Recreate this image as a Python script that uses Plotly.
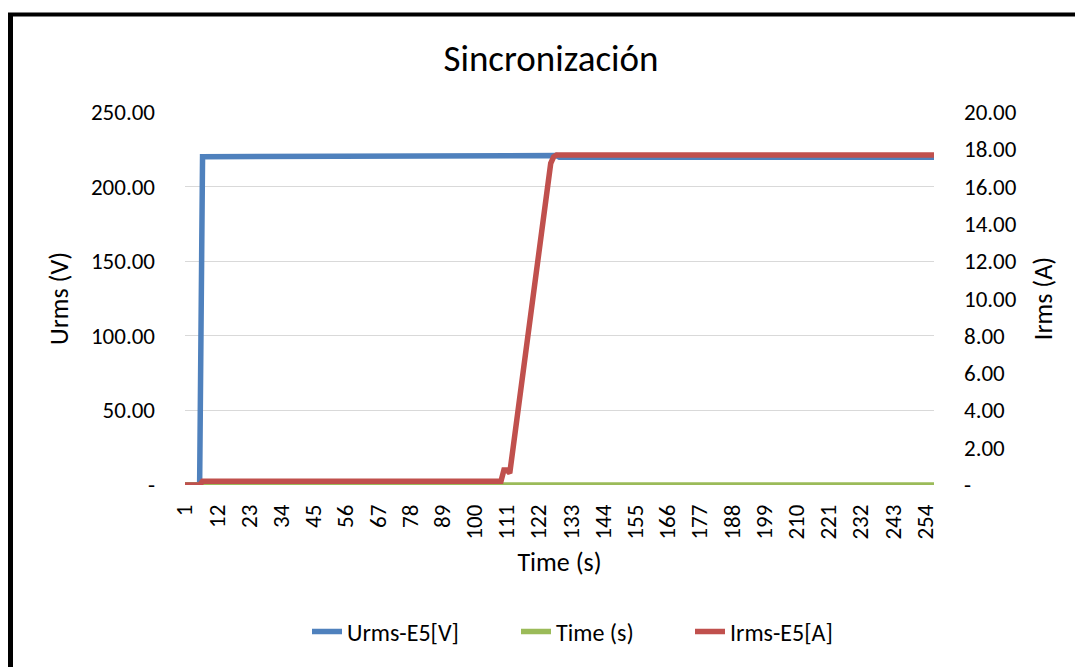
import plotly.graph_objects as go

# categories: sample number (1..257) shown on the x axis
samples = list(range(1, 258))
x_ticks = [1, 12, 23, 34, 45, 56, 67, 78, 89, 100, 111, 122, 133,
           144, 155, 166, 177, 188, 199, 210, 221, 232, 243, 254]

# Urms-E5[V] (left axis)
urms = [0.0] * 6 + [220.0] * 100 + [220.3] * 8 + [220.8] * 14 + [219.6] * 129

# Time (s) series, sits at zero all along
time_s = [0.0] * 257

# Irms-E5[A] (right axis)
irms = ([0.0] * 6 + [0.2] * 103 + [0.8, 0.8]
        + [0.64, 1.83, 3.01, 4.2, 5.39, 6.57, 7.76, 8.94,
           10.13, 11.32, 12.5, 13.69, 14.88, 16.06, 17.25, 17.6]
        + [17.7] * 130)

left_ticks = [0, 50, 100, 150, 200, 250]
right_ticks = [0, 2, 4, 6, 8, 10, 12, 14, 16, 18, 20]


def fmt(v):
    return "-" if v == 0 else f"{v:.2f}"


font = "Carlito, Open Sans, sans-serif"

# page body has an 8px margin, so the figure is drawn 8px smaller
W, H = 1075, 659
L, R, T, B = 177, 149, 104, 182
pw, ph = W - L - R, H - T - B


def px_x(page_x):
    return (page_x - 8 - L) / pw


def px_y(page_y):
    return 1 - (page_y - 8 - T) / ph


fig = go.Figure()
fig.add_trace(go.Scatter(x=samples, y=urms, name="Urms-E5[V]", mode="lines",
                         legend="legend", showlegend=True,
                         line=dict(color="#4f81bd", width=5.5)))
fig.add_trace(go.Scatter(x=samples, y=time_s, name="Time (s)", mode="lines",
                         legend="legend2", showlegend=True,
                         line=dict(color="#9bbb59", width=5.5)))
fig.add_trace(go.Scatter(x=samples, y=irms, name="Irms-E5[A]", mode="lines",
                         yaxis="y2", legend="legend3", showlegend=True,
                         line=dict(color="#c0504d", width=5.5)))

leg = dict(orientation="h", xanchor="left", yanchor="middle", y=px_y(632),
           font=dict(size=24), bgcolor="rgba(0,0,0,0)")

fig.update_layout(
    width=W, height=H,
    showlegend=True,
    margin=dict(l=L, r=R, t=T, b=B),
    paper_bgcolor="white", plot_bgcolor="white",
    font=dict(family=font, size=23, color="#000000"),
    title=dict(text="Sincronización", x=(543 - L) / pw, xref="paper", xanchor="center",
               y=1 - 50 / H, yref="container", yanchor="middle",
               font=dict(size=37, family=font, color="#000000")),
    xaxis=dict(
        range=[1, 257], tickvals=x_ticks, ticktext=[str(v) for v in x_ticks],
        tickangle=-90, showgrid=False, zeroline=False, showline=False,
        ticklabelstandoff=14,
        title=dict(text="Time (s)", font=dict(size=26), standoff=14),
    ),
    yaxis=dict(
        range=[0, 250], tickvals=left_ticks, ticktext=[fmt(v) for v in left_ticks],
        showgrid=True, gridcolor="#d9d9d9", gridwidth=1, zeroline=False,
        showline=False, ticklabelstandoff=29,
        title=dict(text="Urms (V)", font=dict(size=26), standoff=14),
    ),
    yaxis2=dict(
        range=[0, 20], tickvals=right_ticks, ticktext=[fmt(v) for v in right_ticks],
        overlaying="y", side="right", showgrid=False, zeroline=False,
        showline=False, ticklabelstandoff=29,
        title=dict(text="Irms (A)", font=dict(size=26), standoff=18),
    ),
    legend=dict(leg, x=px_x(346 - 39)),
    legend2=dict(leg, x=px_x(555 - 39)),
    legend3=dict(leg, x=px_x(727 - 37)),
    shapes=[
        dict(type="line", xref="paper", yref="paper",
             x0=(2.5 - L) / pw, x1=(2.5 - L) / pw,
             y0=1 + (T - 6.5) / ph, y1=-(H - (T + ph) + 5) / ph,
             line=dict(color="black", width=5)),
        dict(type="line", xref="paper", yref="paper",
             x0=(0 - L) / pw, x1=(W + 10 - L) / pw,
             y0=1 + (T - 6.5) / ph, y1=1 + (T - 6.5) / ph,
             line=dict(color="black", width=4)),
    ],
)

fig.write_html("out.html")
